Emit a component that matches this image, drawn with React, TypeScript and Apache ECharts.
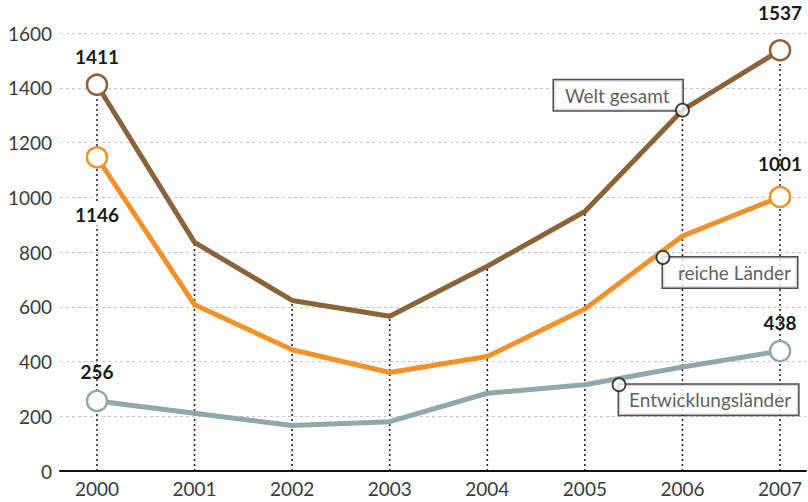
import React, { useEffect, useRef } from "react";
import * as echarts from "echarts";

const years = [2000, 2001, 2002, 2003, 2004, 2005, 2006, 2007];
const weltGesamt = [1411, 835, 623, 565, 748, 948, 1318, 1537];
const reicheLaender = [1146, 607, 443, 360, 418, 592, 858, 1001];
const entwicklungslaender = [256, 211, 166, 180, 284, 315, 380, 438];
const yTickValues = [0, 200, 400, 600, 800, 1000, 1200, 1400, 1600];

const seriesNames = ["Welt gesamt", "reiche Länder", "Entwicklungsländer"];
const labelAnchorYears = [2006, 2005.8, 2005.35];
const labelAnchorValues = [1318, 780, 315];

const COLORS = ["#8c6239", "#f0922b", "#8fa8ac"];
const FONT = "Lato, 'Open Sans', sans-serif";

type EndLabel = { pos: string; dist: number; bg?: boolean };

function buildData(values: number[], color: string, start: EndLabel, end: EndLabel) {
  return values.map((v, i) => {
    const isStart = i === 0;
    const isEnd = i === values.length - 1;
    if (!isStart && !isEnd) {
      return { value: [years[i], v], symbol: "none" };
    }
    const cfg = isStart ? start : end;
    return {
      value: [years[i], v],
      symbol: "circle",
      symbolSize: 20,
      itemStyle: { color: "#fff", borderColor: color, borderWidth: 2.5 },
      label: {
        show: true,
        position: cfg.pos,
        distance: cfg.dist,
        formatter: String(v),
        fontFamily: FONT,
        fontWeight: "bold",
        fontSize: 19,
        color: "#1a1a1a",
        backgroundColor: cfg.bg ? "#fff" : "transparent",
        padding: cfg.bg ? [2, 2, 2, 2] : 0,
      },
    };
  });
}

export default function App() {
  const ref = useRef<HTMLDivElement>(null);
  useEffect(() => {
    if (!ref.current) return;
    const chart = echarts.init(ref.current, null, { renderer: "svg" });
    const boxPaddings = [
      [5, 13, 5, 11],
      [5, 6, 5, 15],
      [5, 7, 5, 10],
    ];
    const boxAligns = [
      { align: "right", verticalAlign: "bottom" },
      { align: "left", verticalAlign: "top" },
      { align: "left", verticalAlign: "top" },
    ];
    const anchorData = seriesNames.map((n, i) => ({
      value: [labelAnchorYears[i], labelAnchorValues[i]],
      name: n,
    }));

    chart.setOption({
      animation: false,
      grid: { left: 60, right: 2, top: 33, bottom: 31 },
      xAxis: {
        type: "value",
        min: 1999.621,
        max: 2007.266,
        splitLine: { show: false },
        axisTick: { show: false },
        axisLine: { show: true, lineStyle: { color: "#111", width: 2 } },
        axisLabel: {
          customValues: years,
          formatter: (v: number) => String(v),
          fontFamily: FONT,
          fontSize: 19,
          color: "#3a3a3a",
          margin: 8,
        },
      },
      yAxis: {
        type: "value",
        min: 0,
        max: yTickValues[yTickValues.length - 1],
        interval: 200,
        axisLine: { show: false },
        axisTick: { show: false },
        axisLabel: {
          fontFamily: FONT,
          fontSize: 19,
          color: "#3a3a3a",
          margin: 8,
          formatter: (v: number) => String(v),
        },
        splitLine: {
          show: true,
          lineStyle: { color: "#c8c8c8", width: 1, type: [3, 3] },
        },
      },
      series: [
        {
          type: "custom",
          z: 1,
          silent: true,
          data: years.map((y, i) => [y, weltGesamt[i]]),
          renderItem: (params: any, api: any) => {
            const p0 = api.coord([api.value(0), 0]);
            const p1 = api.coord([api.value(0), api.value(1)]);
            return {
              type: "line",
              shape: { x1: p0[0], y1: p0[1], x2: p1[0], y2: p1[1] },
              style: { stroke: "#22263a", lineWidth: 1.6, lineDash: [2, 3] },
            };
          },
        },
        {
          name: seriesNames[0],
          type: "line",
          z: 3,
          data: buildData(weltGesamt, COLORS[0], { pos: "top", dist: 7 }, { pos: "top", dist: 17 }),
          lineStyle: { color: COLORS[0], width: 5 },
          itemStyle: { color: COLORS[0] },
          symbol: "none",
        },
        {
          name: seriesNames[1],
          type: "line",
          z: 3,
          data: buildData(
            reicheLaender,
            COLORS[1],
            { pos: "bottom", dist: 34, bg: true },
            { pos: "top", dist: 13 }
          ),
          lineStyle: { color: COLORS[1], width: 5 },
          itemStyle: { color: COLORS[1] },
          symbol: "none",
        },
        {
          name: seriesNames[2],
          type: "line",
          z: 3,
          data: buildData(entwicklungslaender, COLORS[2], { pos: "top", dist: 9 }, { pos: "top", dist: 8 }),
          lineStyle: { color: COLORS[2], width: 5 },
          itemStyle: { color: COLORS[2] },
          symbol: "none",
        },
        {
          type: "scatter",
          z: 5,
          symbolSize: 1,
          itemStyle: { color: "rgba(0,0,0,0)" },
          data: anchorData.map((d, i) => ({
            ...d,
            label: {
              show: true,
              position: [0.5, 0.5],
              ...boxAligns[i],
              formatter: d.name,
              fontFamily: FONT,
              fontSize: 19,
              lineHeight: 20,
              color: "#333",
              backgroundColor: "#fff",
              borderColor: "#222",
              borderWidth: 1.5,
              padding: boxPaddings[i],
            },
          })),
        },
        {
          type: "scatter",
          z: 6,
          symbol: "circle",
          symbolSize: 13,
          itemStyle: { color: "#fff", borderColor: "#111", borderWidth: 1.8 },
          data: anchorData,
        },
      ],
    });
    return () => chart.dispose();
  }, []);
  return (
    <div
      ref={ref}
      style={{ position: "absolute", left: 0, top: 0, width: 808, height: 502, background: "#fff" }}
    />
  );
}
